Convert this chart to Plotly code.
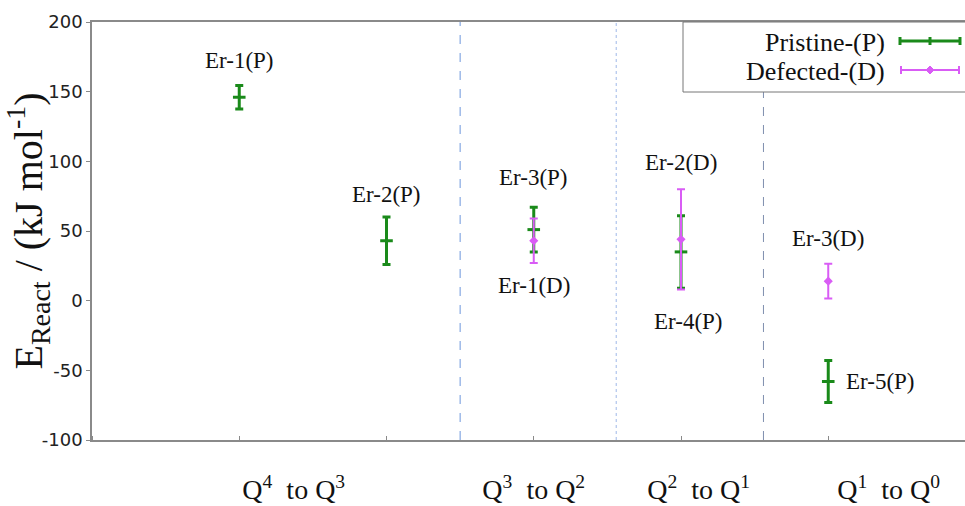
import plotly.graph_objects as go

# ---- data ----
p_x = [1, 2, 3, 4, 5]
p_vals = [146, 43, 51, 35, -58]
p_err = [8.5, 17, 16, 26, 15]
p_names = ["Er-1(P)", "Er-2(P)", "Er-3(P)", "Er-4(P)", "Er-5(P)"]

d_x = [3, 4, 5]
d_vals = [43, 44, 14]
d_err = [16, 36, 12.5]
d_names = ["Er-1(D)", "Er-2(D)", "Er-3(D)"]

group_pos = [1.37, 3.0, 4.12, 5.41]
group_labels = ["Q<sup>4</sup>&nbsp;&nbsp;to Q<sup>3</sup>",
                "Q<sup>3</sup>&nbsp;&nbsp;to Q<sup>2</sup>",
                "Q<sup>2</sup>&nbsp;&nbsp;to Q<sup>1</sup>",
                "Q<sup>1</sup>&nbsp;&nbsp;to Q<sup>0</sup>"]
dividers = [2.5, 3.56, 4.56]

y_tickvals = [-100, -50, 0, 50, 100, 150, 200]
y_ticktext = ["-100", "-50", "0", "50", "100", "150", "200"]

series_names = ["Pristine-(P)", "Defected-(D)"]

GREEN = "#1a8a1a"
MAGENTA = "#d95cf5"
SERIF = "Liberation Serif"

W, H = 965, 506
ML, MR, MT, MB = 92, 0, 22, 66
PW = W - ML - MR
PH = H - MT - MB


def px2paper_x(px):
    return (px - ML) / PW


def px2paper_y(py):
    return 1 - (py - MT) / PH


fig = go.Figure()
fig.add_trace(go.Scatter(
    x=p_x, y=p_vals, mode="markers", name=series_names[0],
    marker=dict(symbol="line-ew", size=9, line=dict(width=3, color=GREEN), color=GREEN),
    error_y=dict(type="data", array=p_err, visible=True, color=GREEN, thickness=3, width=4),
    showlegend=False, cliponaxis=False))
fig.add_trace(go.Scatter(
    x=d_x, y=d_vals, mode="markers", name=series_names[1],
    marker=dict(symbol="diamond", size=7, color=MAGENTA),
    error_y=dict(type="data", array=d_err, visible=True, color=MAGENTA, thickness=2, width=4),
    showlegend=False, cliponaxis=False))

# point labels (offsets in pixels relative to the points)
p_yshift = [37, 46, 52, -70, 0]
p_xshift = [0, 0, 0, 7, 16]
p_anchor = ["center", "center", "center", "center", "left"]
d_yshift = [-45, 77, 43]
LBL = 23
annos = []
for x, y, t, ys, xs, xa in zip(p_x, p_vals, p_names, p_yshift, p_xshift, p_anchor):
    annos.append(dict(x=x, y=y, text=t, showarrow=False, xanchor=xa, yanchor="middle",
                      xshift=xs, yshift=ys, font=dict(family=SERIF, size=LBL, color="#111")))
for x, y, t, ys in zip(d_x, d_vals, d_names, d_yshift):
    annos.append(dict(x=x, y=y, text=t, showarrow=False, xanchor="center", yanchor="middle",
                      yshift=ys, font=dict(family=SERIF, size=LBL, color="#111")))

shapes = []
div_styles = [("#6d96dc", "dash"), ("#9fb8e8", "dot"), ("#7f8fae", "dash")]
for xv, (c, dsh) in zip(dividers, div_styles):
    shapes.append(dict(type="line", xref="x", yref="paper", x0=xv, x1=xv, y0=0, y1=1,
                       line=dict(color=c, width=1, dash=dsh), layer="below"))

# custom legend box
shapes.append(dict(type="rect", xref="paper", yref="paper",
                   x0=px2paper_x(683), x1=px2paper_x(968), y0=px2paper_y(92), y1=px2paper_y(22),
                   line=dict(color="#777", width=1), fillcolor="white", layer="above"))
leg_rows = [(41, GREEN, 3), (70, MAGENTA, 2)]
for (py, col, lw) in leg_rows:
    shapes.append(dict(type="line", xref="paper", yref="paper",
                       x0=px2paper_x(900), x1=px2paper_x(960), y0=px2paper_y(py), y1=px2paper_y(py),
                       line=dict(color=col, width=lw)))
    for cx in (900, 930, 960) if col == GREEN else (901, 959):
        shapes.append(dict(type="line", xref="paper", yref="paper",
                           x0=px2paper_x(cx), x1=px2paper_x(cx), y0=px2paper_y(py - 4), y1=px2paper_y(py + 4),
                           line=dict(color=col, width=lw)))
# magenta legend diamond
shapes.append(dict(type="path", xref="paper", yref="paper",
                   path="M {} {} L {} {} L {} {} L {} {} Z".format(
                       px2paper_x(930), px2paper_y(66), px2paper_x(934), px2paper_y(70),
                       px2paper_x(930), px2paper_y(74), px2paper_x(926), px2paper_y(70)),
                   fillcolor=MAGENTA, line=dict(color=MAGENTA, width=1)))
for (py, _, _), name in zip(leg_rows, series_names):
    annos.append(dict(xref="paper", yref="paper", x=px2paper_x(887), y=px2paper_y(py + 1),
                      text=name, showarrow=False, xanchor="right", yanchor="middle",
                      font=dict(family=SERIF, size=26, color="#111")))

fig.update_layout(
    width=W, height=H, margin=dict(l=ML, r=MR, t=MT, b=MB, autoexpand=False),
    plot_bgcolor="white", paper_bgcolor="white",
    shapes=shapes, annotations=annos, showlegend=False,
    xaxis=dict(range=[0, PW / 147.25], showgrid=False, zeroline=False,
               showline=True, linecolor="#8a8a8a", linewidth=1.5, mirror=True,
               tickmode="array", tickvals=group_pos, ticktext=group_labels,
               ticks="", ticklabelstandoff=24, automargin=False,
               tickfont=dict(family=SERIF, size=28, color="#111"),
               minor=dict(tick0=0, dtick=1, ticks="inside", ticklen=4, tickcolor="#8a8a8a"),
               fixedrange=True),
    yaxis=dict(range=[-100, 200], tickmode="array", tickvals=y_tickvals, ticktext=y_ticktext,
               showgrid=False, zeroline=False,
               showline=True, linecolor="#8a8a8a", linewidth=1.5, mirror=True,
               ticks="outside", ticklen=4, tickcolor="#8a8a8a",
               tickfont=dict(family="DejaVu Sans", size=18, color="#222"),
               title=dict(text="E<sub>React</sub> / (kJ mol<sup>-1</sup>)",
                          font=dict(family=SERIF, size=40, color="#111"), standoff=2),
               automargin=False, fixedrange=True),
)

fig.write_html("out.html")
